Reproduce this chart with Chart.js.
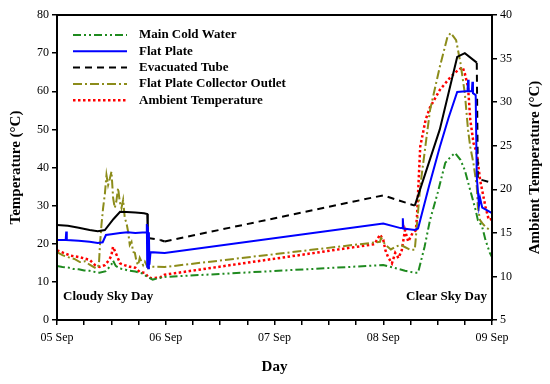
<!DOCTYPE html>
<html lang="en">
<head>
    <meta charset="UTF-8">
    <title>Temperature vs Day</title>
    <style>
        body {
            margin: 0;
            padding: 0;
            background: #fff;
        }

        .chart-box {
            width: 550px;
            height: 384px;
        }
    </style>
</head>
<body>
    <div class="chart-box">
        <canvas id="plot" width="550" height="384"></canvas>
    </div>

    <script src="https://cdn.jsdelivr.net/npm/chart.js"></script>
    <script>
        // x in days since 05 Sep 00:00
        const xTickLabels = ['05 Sep', '06 Sep', '07 Sep', '08 Sep', '09 Sep'];

        const coldDays = [0, 0.05, 0.1, 0.15, 0.2, 0.25, 0.3, 0.35, 0.39, 0.45, 0.5, 0.515, 0.54, 0.58, 0.62, 0.65, 0.72, 0.79, 0.83, 0.88, 0.94, 0.99,
            3.0, 3.1, 3.2, 3.29, 3.32, 3.38, 3.43, 3.5, 3.57, 3.62, 3.66, 3.71, 3.75, 3.8, 3.85, 3.87, 3.89, 3.91, 3.94, 3.98, 4.0];
        const coldTemp = [14.2, 13.9, 13.8, 13.4, 13.3, 13.0, 12.9, 12.6, 12.4, 12.8, 14.5, 15.6, 14.2, 13.5, 13.3, 13.0, 12.7, 12.2, 11.3, 10.6, 11.0, 11.3,
            14.4, 13.7, 12.9, 12.4, 12.4, 19.2, 26.2, 33.3, 41.2, 42.8, 43.8, 42.0, 39.3, 34.0, 28.8, 26.2, 25.4, 24.4, 21.0, 17.6, 16.5];

        const flatDays = [0, 0.08, 0.085, 0.09, 0.2, 0.3, 0.375, 0.42, 0.45, 0.5, 0.58, 0.65, 0.72, 0.82, 0.826, 0.83, 0.835, 0.84, 0.845, 0.85, 0.86, 0.99,
            3.0, 3.16, 3.175, 3.18, 3.185, 3.29, 3.32, 3.42, 3.52, 3.6, 3.68, 3.76, 3.775, 3.78, 3.785, 3.815, 3.82, 3.825, 3.85,
            3.86, 3.87, 3.88, 3.89, 3.91, 3.94, 4.0];
        const flatTemp = [21.0, 21.0, 23.2, 21.0, 20.8, 20.5, 20.2, 20.4, 22.3, 22.5, 22.8, 23.0, 22.8, 23.0, 25.2, 14.0, 24.5, 13.6, 23.0, 14.5, 17.8, 17.6,
            25.3, 24.1, 24.1, 26.7, 24.0, 23.6, 24.0, 35.0, 45.4, 53.0, 59.8, 60.0, 60.0, 63.0, 60.0, 60.0, 62.5, 59.5, 59.0,
            37.5, 34.0, 30.0, 32.0, 29.5, 29.0, 28.0];

        const tubeDays = [0, 0.1, 0.2, 0.3, 0.375, 0.44, 0.52, 0.58, 0.64, 0.72, 0.8, 0.83, 0.835, 0.95, 0.99,
            3.0, 3.29, 3.52, 3.68, 3.75, 3.86, 3.87, 4.0];
        const tubeTemp = [24.9, 24.7, 24.2, 23.6, 23.3, 23.6, 26.5, 28.4, 28.3, 28.2, 28.0, 27.8, 21.5, 21.0, 20.6,
            32.7, 30.0, 50.0, 69.0, 70.0, 67.5, 37.0, 36.0];

        const outletDays = [0, 0.05, 0.1, 0.16, 0.21, 0.26, 0.3, 0.36, 0.385, 0.395, 0.409, 0.424, 0.44, 0.455, 0.47, 0.485, 0.501, 0.516, 0.531,
            0.545, 0.562, 0.577, 0.593, 0.608, 0.623, 0.639, 0.654, 0.669, 0.685, 0.7, 0.716, 0.731, 0.746, 0.761, 0.792, 0.808, 0.838, 0.87, 0.99,
            2.97, 2.98, 3.02, 3.07, 3.11, 3.16, 3.25, 3.29, 3.34, 3.43, 3.52, 3.59, 3.62, 3.67, 3.71, 3.75, 3.78, 3.8, 3.83,
            3.86, 3.87, 3.89, 3.91, 3.94, 3.98, 4.0];
        const outletTemp = [17.8, 17.0, 16.5, 16.0, 15.2, 15.4, 14.5, 13.5, 14.4, 19.7, 25.0, 29.4, 33.0, 38.0, 35.4, 37.0, 38.9, 32.0, 29.4,
            31.0, 34.6, 31.0, 29.4, 31.5, 26.8, 25.4, 23.2, 19.7, 20.5, 17.9, 17.6, 15.3, 14.4, 16.3, 14.4, 15.3, 13.6, 14.0, 13.9,
            20.5, 21.5, 19.7, 18.5, 19.2, 19.7, 18.4, 18.4, 35.0, 55.0, 66.4, 74.2, 75.3, 73.4, 67.4, 59.5, 49.8, 45.4, 41.0,
            35.0, 29.6, 26.2, 25.4, 24.4, 23.6, 23.4];

        // ambient temperature is read on the right axis
        const ambientDays = [0, 0.06, 0.12, 0.21, 0.3, 0.35, 0.39, 0.44, 0.48, 0.5, 0.515, 0.54, 0.56, 0.58, 0.62, 0.67, 0.72, 0.76, 0.81, 0.84,
            0.87, 0.95, 0.99,
            2.92, 2.97, 3.0, 3.02, 3.045, 3.08, 3.11, 3.14, 3.17, 3.2, 3.23, 3.27, 3.3, 3.31, 3.34, 3.39, 3.43, 3.52, 3.62, 3.69,
            3.73, 3.75, 3.78, 3.8, 3.83, 3.86, 3.89, 3.94, 3.97, 4.0];
        const ambientTemp = [13.0, 12.7, 12.4, 12.2, 11.9, 11.3, 11.1, 11.3, 11.9, 12.4, 13.4, 12.7, 12.1, 11.5, 11.3, 11.1, 11.0, 10.5, 10.4, 9.9,
            9.8, 9.9, 10.2,
            13.7, 14.8, 14.2, 13.0, 12.2, 11.5, 12.7, 12.1, 13.0, 15.3, 14.0, 15.0, 15.3, 16.8, 24.9, 28.0, 29.4, 31.4, 32.9, 33.7,
            34.0, 33.3, 31.7, 28.0, 25.3, 24.2, 21.1, 18.0, 16.5, 16.6];

        const serif = "'Liberation Serif', 'Times New Roman', serif";

        function toPoints(xs, ys) {
            return xs.map((x, i) => ({ x: x, y: ys[i] }));
        }

        // black line is dashed only on the long straight gaps
        function tubeDash(ctx) {
            const dx = ctx.p1.parsed.x - ctx.p0.parsed.x;
            const dy = Math.abs(ctx.p1.parsed.y - ctx.p0.parsed.y);
            if ((dx > 0.11 && dy / dx < 20) || (dx < 0.02 && dy > 20)) {
                return [7, 5];
            }
            return undefined;
        }

        const series = [
            { label: 'Main Cold Water', data: toPoints(coldDays, coldTemp), borderColor: '#1f8a1f', borderDash: [8, 3, 2, 3, 2, 3], yAxisID: 'y' },
            { label: 'Flat Plate', data: toPoints(flatDays, flatTemp), borderColor: '#0000ff', borderDash: [], yAxisID: 'y' },
            { label: 'Evacuated Tube', data: toPoints(tubeDays, tubeTemp), borderColor: '#000000', borderDash: [], yAxisID: 'y',
              segment: { borderDash: tubeDash }, legendDash: [7, 5] },
            { label: 'Flat Plate Collector Outlet', data: toPoints(outletDays, outletTemp), borderColor: '#8c8c1a', borderDash: [9, 3, 2, 3], yAxisID: 'y' },
            { label: 'Ambient Temperature', data: toPoints(ambientDays, ambientTemp), borderColor: '#ff0000', borderDash: [2.5, 2.5], yAxisID: 'y2', borderWidth: 2.5 }
        ];

        const datasets = series.map(s => Object.assign({
            borderWidth: 2,
            pointRadius: 0,
            tension: 0,
            fill: false
        }, s));

        // frame, legend, axis titles and the two notes
        const decorPlugin = {
            id: 'decor',
            afterDraw(chart) {
                const ctx = chart.ctx;
                const area = chart.chartArea;
                ctx.save();
                ctx.strokeStyle = '#000';
                ctx.lineWidth = 2;
                ctx.strokeRect(area.left, area.top, area.right - area.left, area.bottom - area.top);

                // legend
                ctx.font = 'bold 13px ' + serif;
                ctx.textBaseline = 'middle';
                ctx.textAlign = 'left';
                series.forEach((s, i) => {
                    const y = 35 + i * 16.3;
                    ctx.beginPath();
                    ctx.strokeStyle = s.borderColor;
                    ctx.lineWidth = s.borderWidth || 2;
                    ctx.setLineDash(s.legendDash || s.borderDash);
                    ctx.moveTo(73, y);
                    ctx.lineTo(127, y);
                    ctx.stroke();
                    ctx.setLineDash([]);
                    ctx.fillStyle = '#000';
                    ctx.fillText(s.label, 139, y);
                });

                // notes
                ctx.font = 'bold 13px ' + serif;
                ctx.fillText('Cloudy Sky Day', 63, 297);
                ctx.textAlign = 'right';
                ctx.fillText('Clear Sky Day', 487, 297);

                // axis titles
                ctx.font = 'bold 15px ' + serif;
                ctx.textAlign = 'center';
                ctx.fillText('Day', (area.left + area.right) / 2, 367);
                const midY = (area.top + area.bottom) / 2;
                ctx.translate(16, midY);
                ctx.rotate(-Math.PI / 2);
                ctx.fillText('Temperature (°C)', 0, 0);
                ctx.rotate(Math.PI / 2);
                ctx.translate(535 - 16, 0);
                ctx.rotate(-Math.PI / 2);
                ctx.fillText('Ambient Temperature (°C)', 0, 0);
                ctx.restore();
            }
        };

        const tickFont = { family: serif, size: 12 };

        new Chart(document.getElementById('plot').getContext('2d'), {
            type: 'line',
            data: { datasets: datasets },
            options: {
                responsive: false,
                animation: false,
                layout: { padding: { top: 15 } },
                plugins: {
                    legend: { display: false },
                    tooltip: { enabled: false }
                },
                scales: {
                    x: {
                        type: 'linear',
                        min: 0,
                        max: 4,
                        afterFit: s => { s.height = 64; },
                        afterBuildTicks: s => {
                            s.ticks = [];
                            for (let i = 0; i <= 16; i++) s.ticks.push({ value: i * 0.25 });
                        },
                        ticks: {
                            autoSkip: false,
                            maxRotation: 0,
                            padding: 6,
                            color: '#000',
                            font: tickFont,
                            callback: v => (Number.isInteger(v) ? xTickLabels[v] : '')
                        },
                        grid: { drawOnChartArea: false, tickLength: 5, color: '#000', lineWidth: 1.5 },
                        border: { color: '#000', width: 2 }
                    },
                    y: {
                        position: 'left',
                        min: 0,
                        max: 80,
                        afterFit: s => { s.width = 57; },
                        ticks: { stepSize: 10, padding: 3, color: '#000', font: tickFont },
                        grid: { drawOnChartArea: false, tickLength: 5, color: '#000', lineWidth: 1.5 },
                        border: { color: '#000', width: 2 }
                    },
                    y2: {
                        position: 'right',
                        min: 5,
                        max: 40,
                        afterFit: s => { s.width = 58; },
                        ticks: { stepSize: 5, padding: 3, color: '#000', font: tickFont },
                        grid: { drawOnChartArea: false, tickLength: 5, color: '#000', lineWidth: 1.5 },
                        border: { color: '#000', width: 2 }
                    }
                }
            },
            plugins: [decorPlugin]
        });
    </script>
</body>
</html>
